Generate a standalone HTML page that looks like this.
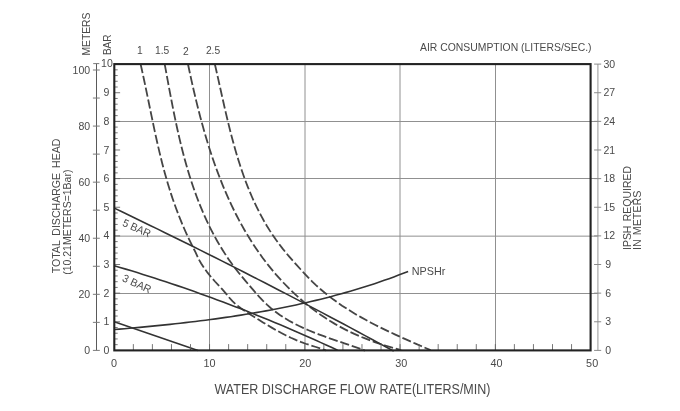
<!DOCTYPE html>
<html lang="en"><head><meta charset="utf-8"><title>Pump performance curve</title>
<style>html,body{margin:0;padding:0;background:#fff}body{width:680px;height:411px;overflow:hidden}svg{display:block}text{font-family:"Liberation Sans",Arial,sans-serif;fill:#4a4a4a}</style></head><body>
<svg width="680" height="411" viewBox="0 0 680 411">
<rect width="680" height="411" fill="#fff"/>
<g stroke="#909090" stroke-width="1" fill="none">
<line x1="209.50" y1="64.10" x2="209.50" y2="350.40"/>
<line x1="305.00" y1="64.10" x2="305.00" y2="350.40"/>
<line x1="400.00" y1="64.10" x2="400.00" y2="350.40"/>
<line x1="495.50" y1="64.10" x2="495.50" y2="350.40"/>
<line x1="114.30" y1="121.50" x2="598.10" y2="121.50"/>
<line x1="114.30" y1="178.50" x2="598.10" y2="178.50"/>
<line x1="114.30" y1="236.15" x2="598.10" y2="236.15"/>
<line x1="114.30" y1="293.50" x2="598.10" y2="293.50"/>
</g>
<g stroke="#454545" stroke-width="1.8" fill="none" stroke-dasharray="9.2 2.85">
<path d="M140.60 64.10 L141.76 69.29 L142.91 74.49 L144.02 79.69 L145.13 84.90 L146.21 90.11 L147.29 95.33 L148.36 100.54 L149.43 105.76 L150.50 110.98 L151.58 116.19 L152.66 121.41 L153.76 126.62 L154.88 131.83 L156.01 137.03 L157.17 142.22 L158.36 147.41 L159.58 152.59 L160.84 157.76 L162.13 162.92 L163.47 168.07 L164.86 173.21 L166.30 178.33 L167.79 183.44 L169.35 188.53 L170.96 193.61 L172.64 198.67 L174.39 203.71 L176.21 208.72 L178.09 213.71 L180.04 218.67 L182.06 223.60 L184.15 228.50 L186.30 233.37 L188.53 238.19 L190.83 242.98 L193.19 247.72 L195.59 252.37 L197.16 255.86 L198.72 259.20 L201.17 263.42 L204.25 268.13 L207.73 272.92 L211.37 277.42 L215.01 281.50 L218.62 285.35 L222.15 289.15 L225.58 293.08 L228.91 297.23 L232.45 301.19 L236.36 304.75 L240.55 307.99 L244.94 311.01 L249.43 313.91 L253.95 316.76 L258.47 319.60 L263.00 322.42 L267.55 325.18 L272.13 327.89 L276.74 330.52 L281.40 333.06 L286.12 335.48 L290.90 337.78 L295.75 339.93 L300.69 341.93 L305.72 343.74 L310.83 345.40 L315.96 347.00 L321.03 348.64 L325.97 350.43" stroke-dashoffset="0.0"/>
<path d="M164.69 64.11 L165.67 69.44 L166.65 74.78 L167.64 80.12 L168.63 85.47 L169.63 90.82 L170.64 96.17 L171.67 101.52 L172.71 106.87 L173.78 112.22 L174.88 117.56 L176.00 122.90 L177.15 128.23 L178.34 133.55 L179.57 138.86 L180.84 144.16 L182.16 149.45 L183.52 154.73 L184.93 159.98 L186.40 165.23 L187.93 170.45 L189.51 175.66 L191.16 180.84 L192.88 186.01 L194.67 191.14 L196.53 196.26 L198.47 201.35 L200.49 206.40 L202.59 211.43 L204.77 216.42 L207.04 221.37 L209.40 226.27 L211.85 231.13 L214.39 235.95 L217.02 240.70 L219.75 245.40 L222.58 250.04 L225.51 254.62 L228.55 259.13 L231.69 263.58 L234.93 267.94 L238.29 272.24 L241.74 276.46 L245.24 280.64 L248.78 284.80 L252.31 288.95 L255.87 293.07 L259.52 297.12 L263.30 301.05 L267.20 304.84 L271.26 308.44 L275.49 311.83 L279.87 314.99 L284.40 317.95 L289.06 320.73 L293.82 323.33 L298.68 325.77 L303.61 328.07 L308.60 330.25 L313.64 332.32 L318.72 334.29 L323.82 336.19 L328.96 338.03 L334.10 339.83 L339.26 341.59 L344.42 343.35 L349.57 345.11 L354.71 346.90 L359.83 348.72 L364.92 350.60" stroke-dashoffset="0.0"/>
<path d="M188.02 64.21 L189.12 69.50 L190.25 74.80 L191.41 80.11 L192.60 85.42 L193.81 90.75 L195.06 96.08 L196.34 101.41 L197.66 106.75 L199.01 112.08 L200.41 117.41 L201.84 122.74 L203.32 128.06 L204.84 133.37 L206.40 138.67 L208.02 143.95 L209.68 149.23 L211.39 154.48 L213.16 159.72 L214.98 164.93 L216.86 170.13 L218.80 175.30 L220.80 180.44 L222.85 185.55 L224.98 190.63 L227.17 195.68 L229.42 200.70 L231.74 205.68 L234.14 210.61 L236.61 215.51 L239.15 220.37 L241.77 225.18 L244.46 229.95 L247.24 234.66 L250.09 239.33 L253.03 243.94 L256.06 248.50 L259.17 253.00 L262.36 257.45 L265.65 261.83 L269.04 266.15 L272.51 270.40 L276.07 274.59 L279.73 278.70 L283.48 282.74 L287.31 286.70 L291.23 290.57 L295.23 294.36 L299.32 298.06 L303.48 301.66 L307.73 305.16 L312.06 308.56 L316.47 311.85 L320.95 315.03 L325.51 318.10 L330.14 321.05 L334.85 323.88 L339.62 326.58 L344.46 329.16 L349.38 331.60 L354.35 333.92 L359.38 336.12 L364.47 338.20 L369.60 340.17 L374.78 342.04 L379.99 343.82 L385.24 345.50 L390.52 347.09 L395.82 348.60 L401.14 350.04" stroke-dashoffset="0.0"/>
<path d="M214.88 64.25 L216.08 69.52 L217.28 74.81 L218.47 80.13 L219.65 85.47 L220.84 90.82 L222.04 96.19 L223.25 101.57 L224.48 106.95 L225.72 112.34 L226.99 117.73 L228.29 123.12 L229.62 128.51 L230.99 133.88 L232.40 139.25 L233.86 144.60 L235.37 149.94 L236.93 155.26 L238.55 160.55 L240.23 165.82 L241.98 171.06 L243.80 176.27 L245.70 181.45 L247.68 186.58 L249.75 191.68 L251.90 196.73 L254.14 201.74 L256.49 206.70 L258.93 211.60 L261.48 216.45 L264.14 221.25 L266.92 225.98 L269.82 230.64 L272.84 235.24 L275.98 239.77 L279.25 244.23 L282.62 248.61 L286.10 252.92 L289.67 257.14 L293.31 261.30 L297.02 265.42 L300.75 269.51 L304.51 273.59 L308.32 277.61 L312.21 281.54 L316.19 285.34 L320.28 289.01 L324.47 292.56 L328.75 295.99 L333.11 299.31 L337.55 302.52 L342.07 305.63 L346.66 308.64 L351.31 311.56 L356.03 314.40 L360.80 317.15 L365.62 319.83 L370.49 322.44 L375.39 324.98 L380.33 327.46 L385.31 329.89 L390.30 332.26 L395.32 334.60 L400.35 336.89 L405.39 339.15 L410.44 341.39 L415.49 343.60 L420.53 345.79 L425.56 347.97 L430.58 350.15" stroke-dashoffset="0.0"/>
</g>
<g stroke="#333" stroke-width="1.6" fill="none">
<path d="M114.30 208.15 L121.46 211.57 L128.63 215.01 L135.79 218.47 L142.96 221.93 L150.12 225.41 L157.28 228.90 L164.45 232.41 L171.61 235.92 L178.78 239.45 L185.94 242.99 L193.11 246.54 L200.27 250.11 L207.43 253.69 L214.60 257.28 L221.76 260.88 L228.93 264.50 L236.09 268.13 L243.25 271.77 L250.42 275.42 L257.58 279.09 L264.75 282.77 L271.91 286.46 L279.07 290.17 L286.24 293.88 L293.40 297.61 L300.57 301.35 L307.73 305.11 L314.89 308.87 L322.06 312.65 L329.22 316.45 L336.39 320.25 L343.55 324.07 L350.72 327.90 L357.88 331.74 L365.04 335.59 L372.21 339.46 L379.37 343.34 L386.54 347.23 L393.70 351.14"/>
<path d="M114.30 265.74 L120.03 267.42 L125.75 269.12 L131.48 270.85 L137.20 272.61 L142.93 274.39 L148.65 276.20 L154.38 278.04 L160.11 279.90 L165.83 281.78 L171.56 283.69 L177.28 285.63 L183.01 287.59 L188.73 289.58 L194.46 291.59 L200.18 293.63 L205.91 295.69 L211.64 297.78 L217.36 299.90 L223.09 302.04 L228.81 304.21 L234.54 306.40 L240.26 308.62 L245.99 310.86 L251.72 313.13 L257.44 315.43 L263.17 317.75 L268.89 320.09 L274.62 322.46 L280.34 324.86 L286.07 327.28 L291.79 329.73 L297.52 332.21 L303.25 334.71 L308.97 337.23 L314.70 339.78 L320.42 342.36 L326.15 344.96 L331.87 347.59 L337.60 350.24"/>
<path d="M114.30 321.80 L198.00 350.40"/>
<path d="M114.34 329.56 L119.40 329.14 L124.46 328.71 L129.53 328.26 L134.59 327.81 L139.66 327.35 L144.73 326.88 L149.80 326.40 L154.87 325.90 L159.94 325.39 L165.01 324.87 L170.08 324.34 L175.15 323.79 L180.22 323.23 L185.28 322.65 L190.35 322.06 L195.41 321.45 L200.48 320.82 L205.54 320.18 L210.59 319.52 L215.65 318.84 L220.70 318.14 L225.75 317.41 L230.80 316.67 L235.84 315.91 L240.88 315.13 L245.91 314.32 L250.94 313.49 L255.97 312.64 L260.99 311.76 L266.00 310.86 L271.01 309.94 L276.02 308.99 L281.02 308.01 L286.01 307.00 L291.00 305.97 L295.98 304.91 L300.95 303.82 L305.92 302.70 L310.87 301.55 L315.83 300.38 L320.77 299.17 L325.70 297.93 L330.63 296.65 L335.55 295.35 L340.46 294.01 L345.36 292.63 L350.25 291.22 L355.13 289.78 L360.01 288.30 L364.87 286.79 L369.72 285.24 L374.56 283.65 L379.39 282.02 L384.21 280.35 L389.02 278.65 L393.82 276.90 L398.60 275.12 L403.38 273.29 L408.14 271.42"/>
</g>
<g stroke="#5e5e5e" stroke-width="0.85" fill="none">
<line x1="114.30" y1="350.40" x2="120.10" y2="350.40"/>
<line x1="114.30" y1="344.67" x2="117.70" y2="344.67"/>
<line x1="114.30" y1="338.95" x2="117.70" y2="338.95"/>
<line x1="114.30" y1="333.22" x2="117.70" y2="333.22"/>
<line x1="114.30" y1="327.50" x2="117.70" y2="327.50"/>
<line x1="114.30" y1="321.77" x2="120.10" y2="321.77"/>
<line x1="114.30" y1="316.04" x2="117.70" y2="316.04"/>
<line x1="114.30" y1="310.32" x2="117.70" y2="310.32"/>
<line x1="114.30" y1="304.59" x2="117.70" y2="304.59"/>
<line x1="114.30" y1="298.87" x2="117.70" y2="298.87"/>
<line x1="114.30" y1="293.14" x2="120.10" y2="293.14"/>
<line x1="114.30" y1="287.41" x2="117.70" y2="287.41"/>
<line x1="114.30" y1="281.69" x2="117.70" y2="281.69"/>
<line x1="114.30" y1="275.96" x2="117.70" y2="275.96"/>
<line x1="114.30" y1="270.24" x2="117.70" y2="270.24"/>
<line x1="114.30" y1="264.51" x2="120.10" y2="264.51"/>
<line x1="114.30" y1="258.78" x2="117.70" y2="258.78"/>
<line x1="114.30" y1="253.06" x2="117.70" y2="253.06"/>
<line x1="114.30" y1="247.33" x2="117.70" y2="247.33"/>
<line x1="114.30" y1="241.61" x2="117.70" y2="241.61"/>
<line x1="114.30" y1="235.88" x2="120.10" y2="235.88"/>
<line x1="114.30" y1="230.15" x2="117.70" y2="230.15"/>
<line x1="114.30" y1="224.43" x2="117.70" y2="224.43"/>
<line x1="114.30" y1="218.70" x2="117.70" y2="218.70"/>
<line x1="114.30" y1="212.98" x2="117.70" y2="212.98"/>
<line x1="114.30" y1="207.25" x2="120.10" y2="207.25"/>
<line x1="114.30" y1="201.52" x2="117.70" y2="201.52"/>
<line x1="114.30" y1="195.80" x2="117.70" y2="195.80"/>
<line x1="114.30" y1="190.07" x2="117.70" y2="190.07"/>
<line x1="114.30" y1="184.35" x2="117.70" y2="184.35"/>
<line x1="114.30" y1="178.62" x2="120.10" y2="178.62"/>
<line x1="114.30" y1="172.89" x2="117.70" y2="172.89"/>
<line x1="114.30" y1="167.17" x2="117.70" y2="167.17"/>
<line x1="114.30" y1="161.44" x2="117.70" y2="161.44"/>
<line x1="114.30" y1="155.72" x2="117.70" y2="155.72"/>
<line x1="114.30" y1="149.99" x2="120.10" y2="149.99"/>
<line x1="114.30" y1="144.26" x2="117.70" y2="144.26"/>
<line x1="114.30" y1="138.54" x2="117.70" y2="138.54"/>
<line x1="114.30" y1="132.81" x2="117.70" y2="132.81"/>
<line x1="114.30" y1="127.09" x2="117.70" y2="127.09"/>
<line x1="114.30" y1="121.36" x2="120.10" y2="121.36"/>
<line x1="114.30" y1="115.63" x2="117.70" y2="115.63"/>
<line x1="114.30" y1="109.91" x2="117.70" y2="109.91"/>
<line x1="114.30" y1="104.18" x2="117.70" y2="104.18"/>
<line x1="114.30" y1="98.46" x2="117.70" y2="98.46"/>
<line x1="114.30" y1="92.73" x2="120.10" y2="92.73"/>
<line x1="114.30" y1="87.00" x2="117.70" y2="87.00"/>
<line x1="114.30" y1="81.28" x2="117.70" y2="81.28"/>
<line x1="114.30" y1="75.55" x2="117.70" y2="75.55"/>
<line x1="114.30" y1="69.83" x2="117.70" y2="69.83"/>
<line x1="114.30" y1="64.10" x2="120.10" y2="64.10"/>
<line x1="133.35" y1="350.40" x2="133.35" y2="344.10"/>
<line x1="152.40" y1="350.40" x2="152.40" y2="344.10"/>
<line x1="171.46" y1="350.40" x2="171.46" y2="344.10"/>
<line x1="190.51" y1="350.40" x2="190.51" y2="344.10"/>
<line x1="209.56" y1="350.40" x2="209.56" y2="344.10"/>
<line x1="228.61" y1="350.40" x2="228.61" y2="344.10"/>
<line x1="247.66" y1="350.40" x2="247.66" y2="344.10"/>
<line x1="266.72" y1="350.40" x2="266.72" y2="344.10"/>
<line x1="285.77" y1="350.40" x2="285.77" y2="344.10"/>
<line x1="304.82" y1="350.40" x2="304.82" y2="344.10"/>
<line x1="323.87" y1="350.40" x2="323.87" y2="344.10"/>
<line x1="342.92" y1="350.40" x2="342.92" y2="344.10"/>
<line x1="361.98" y1="350.40" x2="361.98" y2="344.10"/>
<line x1="381.03" y1="350.40" x2="381.03" y2="344.10"/>
<line x1="400.08" y1="350.40" x2="400.08" y2="344.10"/>
<line x1="419.13" y1="350.40" x2="419.13" y2="344.10"/>
<line x1="438.18" y1="350.40" x2="438.18" y2="344.10"/>
<line x1="457.24" y1="350.40" x2="457.24" y2="344.10"/>
<line x1="476.29" y1="350.40" x2="476.29" y2="344.10"/>
<line x1="495.34" y1="350.40" x2="495.34" y2="344.10"/>
<line x1="514.39" y1="350.40" x2="514.39" y2="344.10"/>
<line x1="533.44" y1="350.40" x2="533.44" y2="344.10"/>
<line x1="552.50" y1="350.40" x2="552.50" y2="344.10"/>
<line x1="571.55" y1="350.40" x2="571.55" y2="344.10"/>
</g>
<rect x="114.30" y="64.10" width="476.30" height="286.30" fill="none" stroke="#222" stroke-width="2.1"/>
<g fill="none" stroke-width="1">
<g stroke="#5a5a5a">
<line x1="96.50" y1="63.60" x2="96.50" y2="350.40"/>
</g>
<g stroke="#7a7a7a">
<line x1="92.90" y1="350.40" x2="99.80" y2="350.40"/>
<line x1="92.90" y1="322.36" x2="99.80" y2="322.36"/>
<line x1="92.90" y1="294.32" x2="99.80" y2="294.32"/>
<line x1="92.90" y1="266.28" x2="99.80" y2="266.28"/>
<line x1="92.90" y1="238.24" x2="99.80" y2="238.24"/>
<line x1="92.90" y1="210.20" x2="99.80" y2="210.20"/>
<line x1="92.90" y1="182.16" x2="99.80" y2="182.16"/>
<line x1="92.90" y1="154.12" x2="99.80" y2="154.12"/>
<line x1="92.90" y1="126.08" x2="99.80" y2="126.08"/>
<line x1="92.90" y1="98.04" x2="99.80" y2="98.04"/>
<line x1="92.90" y1="70.00" x2="99.80" y2="70.00"/>
<line x1="93.20" y1="63.60" x2="99.30" y2="63.60"/>
</g>
<g stroke="#a0a0a0" stroke-width="1.1">
<line x1="597.90" y1="64.10" x2="597.90" y2="350.40"/>
</g>
<g stroke="#8c8c8c">
<line x1="594.10" y1="350.40" x2="601.20" y2="350.40"/>
<line x1="594.10" y1="321.77" x2="601.20" y2="321.77"/>
<line x1="594.10" y1="293.14" x2="601.20" y2="293.14"/>
<line x1="594.10" y1="264.51" x2="601.20" y2="264.51"/>
<line x1="594.10" y1="235.88" x2="601.20" y2="235.88"/>
<line x1="594.10" y1="207.25" x2="601.20" y2="207.25"/>
<line x1="594.10" y1="178.62" x2="601.20" y2="178.62"/>
<line x1="594.10" y1="149.99" x2="601.20" y2="149.99"/>
<line x1="594.10" y1="121.36" x2="601.20" y2="121.36"/>
<line x1="594.10" y1="92.73" x2="601.20" y2="92.73"/>
<line x1="594.10" y1="64.10" x2="601.20" y2="64.10"/>
</g></g>
<g font-size="11.1">
<text transform="translate(106.30 353.97) scale(0.950 1)" text-anchor="middle">0</text>
<text transform="translate(106.30 325.34) scale(0.950 1)" text-anchor="middle">1</text>
<text transform="translate(106.30 296.71) scale(0.950 1)" text-anchor="middle">2</text>
<text transform="translate(106.30 268.08) scale(0.950 1)" text-anchor="middle">3</text>
<text transform="translate(106.30 239.45) scale(0.950 1)" text-anchor="middle">4</text>
<text transform="translate(106.30 210.82) scale(0.950 1)" text-anchor="middle">5</text>
<text transform="translate(106.30 182.19) scale(0.950 1)" text-anchor="middle">6</text>
<text transform="translate(106.30 153.56) scale(0.950 1)" text-anchor="middle">7</text>
<text transform="translate(106.30 124.93) scale(0.950 1)" text-anchor="middle">8</text>
<text transform="translate(106.30 96.30) scale(0.950 1)" text-anchor="middle">9</text>
<text transform="translate(106.90 66.87) scale(0.950 1)" text-anchor="middle">10</text>
<text transform="translate(90.10 354.17) scale(0.950 1)" text-anchor="end">0</text>
<text transform="translate(90.10 298.09) scale(0.950 1)" text-anchor="end">20</text>
<text transform="translate(90.10 242.01) scale(0.950 1)" text-anchor="end">40</text>
<text transform="translate(90.10 185.93) scale(0.950 1)" text-anchor="end">60</text>
<text transform="translate(90.10 129.85) scale(0.950 1)" text-anchor="end">80</text>
<text transform="translate(90.10 73.77) scale(0.950 1)" text-anchor="end">100</text>
<text transform="translate(605.30 353.97) scale(0.950 1)" text-anchor="start">0</text>
<text transform="translate(605.30 325.34) scale(0.950 1)" text-anchor="start">3</text>
<text transform="translate(605.30 296.71) scale(0.950 1)" text-anchor="start">6</text>
<text transform="translate(605.30 268.08) scale(0.950 1)" text-anchor="start">9</text>
<text transform="translate(603.50 239.45) scale(0.950 1)" text-anchor="start">12</text>
<text transform="translate(603.50 210.82) scale(0.950 1)" text-anchor="start">15</text>
<text transform="translate(603.50 182.19) scale(0.950 1)" text-anchor="start">18</text>
<text transform="translate(603.50 153.56) scale(0.950 1)" text-anchor="start">21</text>
<text transform="translate(603.50 124.93) scale(0.950 1)" text-anchor="start">24</text>
<text transform="translate(603.50 96.30) scale(0.950 1)" text-anchor="start">27</text>
<text transform="translate(603.50 67.67) scale(0.950 1)" text-anchor="start">30</text>
</g>
<g font-size="11.2">
<text transform="translate(113.90 367.01) scale(0.970 1)" text-anchor="middle">0</text>
<text transform="translate(209.55 367.01) scale(0.970 1)" text-anchor="middle">10</text>
<text transform="translate(305.20 367.01) scale(0.970 1)" text-anchor="middle">20</text>
<text transform="translate(401.25 367.01) scale(0.970 1)" text-anchor="middle">30</text>
<text transform="translate(496.50 367.01) scale(0.970 1)" text-anchor="middle">40</text>
<text transform="translate(592.15 367.01) scale(0.970 1)" text-anchor="middle">50</text>
</g>
<g font-size="10.8">
<text transform="translate(139.90 53.80) scale(0.950 1)" text-anchor="middle">1</text>
<text transform="translate(162.20 53.90) scale(0.950 1)" text-anchor="middle">1.5</text>
<text transform="translate(185.80 55.30) scale(0.950 1)" text-anchor="middle">2</text>
<text transform="translate(213.00 53.90) scale(0.950 1)" text-anchor="middle">2.5</text>
<text x="591.5" y="51.4" text-anchor="end" textLength="171.5" lengthAdjust="spacingAndGlyphs">AIR CONSUMPTION (LITERS/SEC.)</text>
<text x="411.8" y="275.4" textLength="33.6" lengthAdjust="spacingAndGlyphs" font-size="10.9">NPSHr</text>
<text transform="translate(89.8 55.6) rotate(-90)" textLength="43" lengthAdjust="spacingAndGlyphs">METERS</text>
<text transform="translate(110.9 55.1) rotate(-90)" textLength="20.7" lengthAdjust="spacingAndGlyphs">BAR</text>
<text transform="translate(60.0 273.3) rotate(-90)" textLength="134.7" lengthAdjust="spacingAndGlyphs" word-spacing="2">TOTAL DISCHARGE HEAD</text>
<text transform="translate(70.5 274.8) rotate(-90)" textLength="105.2" lengthAdjust="spacingAndGlyphs">(10.21METERS=1Bar)</text>
<text transform="translate(630.5 250) rotate(-90)" textLength="84" lengthAdjust="spacingAndGlyphs" word-spacing="1.5">IPSH REQUIRED</text>
<text transform="translate(641.3 250) rotate(-90)" textLength="59.4" lengthAdjust="spacingAndGlyphs" word-spacing="1">IN METERS</text>
<text transform="translate(121.7 225.5) rotate(24.2)" textLength="29.6" lengthAdjust="spacingAndGlyphs">5 BAR</text>
<text transform="translate(121.6 280.8) rotate(24.4)" textLength="30.4" lengthAdjust="spacingAndGlyphs">3 BAR</text>
</g>
<text x="214.5" y="394.4" font-size="14.2" textLength="276" lengthAdjust="spacingAndGlyphs">WATER DISCHARGE FLOW RATE(LITERS/MIN)</text>
</svg></body></html>
